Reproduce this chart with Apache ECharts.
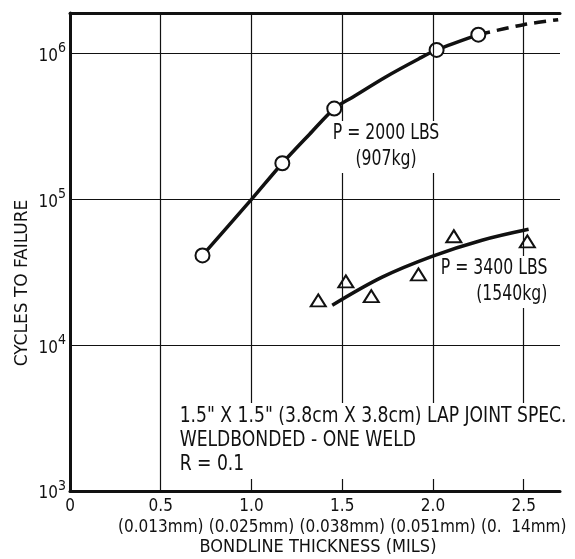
<!DOCTYPE html>
<html>
<head>
<meta charset="utf-8">
<script src="https://cdn.jsdelivr.net/npm/echarts@6/dist/echarts.min.js"></script>
<style>
html,body{margin:0;padding:0;background:#fff;}
#chart{width:575px;height:559px;}
</style>
</head>
<body>
<div id="chart"></div>
<script>
// ---- data ----
const xTicks = [0, 0.5, 1.0, 1.5, 2.0, 2.5];
const xTickLabels = ['0', '0.5', '1.0', '1.5', '2.0', '2.5'];
const xTickMm = ['', '(0.013mm)', '(0.025mm)', '(0.038mm)', '(0.051mm)', '(0.  14mm)'];
const yTickExps = [3, 4, 5, 6];

// P = 2000 LBS test points (circles)
const p2000X = [0.73, 1.17, 1.456, 2.02, 2.25];
const p2000Y = [41300, 177000, 420000, 1060000, 1350000];
// fitted curve (solid part)
const c2000X = [0.73, 1.0, 1.17, 1.32, 1.456, 1.555, 1.742, 1.923, 2.02, 2.25];
const c2000Y = [41300, 100000, 177000, 280000, 420000, 501000, 695000, 923000, 1060000, 1350000];
// extrapolated (dashed part)
const c2000dX = [2.25, 2.5, 2.69];
const c2000dY = [1350000, 1580000, 1710000];

// P = 3400 LBS test points (triangles)
const p3400X = [1.368, 1.52, 1.66, 1.92, 2.115, 2.52];
const p3400Y = [20300, 27400, 21700, 30600, 55900, 51500];
// fitted curve
const c3400X = [1.445, 1.72, 1.995, 2.27, 2.527];
const c3400Y = [18800, 29300, 40700, 52500, 62400];

const xMin = 0, xMax = 2.7, yMin = 1000, yMax = 1900000;

const zip = (xs, ys) => xs.map((x, i) => [x, ys[i]]);
const FONT = "'Liberation Sans Narrow', 'DejaVu Sans Condensed', 'Liberation Sans', sans-serif";
const INK = '#111';

const chart = echarts.init(document.getElementById('chart'), null, {renderer: 'canvas'});
const option = {
  backgroundColor: '#fff',
  animation: false,
  grid: {left: 70, right: 15, top: 13, bottom: 68, containLabel: false},
  xAxis: [{
    type: 'value', min: xMin, max: xMax, interval: 0.5,
    axisLine: {show: true, onZero: false, lineStyle: {color: INK, width: 3}},
    axisTick: {show: false},
    splitLine: {show: false},
    axisLabel: {
      show: true, margin: 5, hideOverlap: false, showMaxLabel: true, showMinLabel: true,
      color: INK, fontFamily: FONT, fontSize: 17, lineHeight: 21,
      formatter: function (v) {
        const i = xTicks.findIndex(t => Math.abs(t - v) < 1e-6);
        if (i < 0) return '';
        return xTickMm[i] ? xTickLabels[i] + '\n' + xTickMm[i] : xTickLabels[i];
      }
    }
  }, {
    type: 'value', min: xMin, max: xMax, position: 'top',
    axisLine: {show: true, onZero: false, lineStyle: {color: INK, width: 3}},
    axisTick: {show: false}, axisLabel: {show: false}, splitLine: {show: false}
  }],
  yAxis: {
    type: 'log', logBase: 10, min: yMin, max: yMax,
    axisLine: {show: true, onZero: false, lineStyle: {color: INK, width: 3}},
    axisTick: {show: false},
    minorTick: {show: false},
    splitLine: {show: true, lineStyle: {color: INK, width: 1.2}},
    axisLabel: {
      show: true, margin: 4, color: INK, fontFamily: FONT, showMaxLabel: true,
      formatter: function (v) {
        const e = Math.round(Math.log10(v));
        if (Math.abs(Math.log10(v) - e) > 1e-6 || yTickExps.indexOf(e) < 0) return '';
        return '{b|10}{s|' + e + '}';
      },
      rich: {
        b: {fontFamily: FONT, fontSize: 17, color: INK, padding: [6, 0, 0, 0]},
        s: {fontFamily: FONT, fontSize: 14, color: INK, padding: [0, 0, 10, 0]}
      }
    }
  },
  graphic: [
    {type: 'text', x: 22, y: 283, rotation: Math.PI / 2, z: 100, scaleX: 1.05,
     style: {text: 'CYCLES TO FAILURE', fill: INK, font: '18px ' + FONT, align: 'center', verticalAlign: 'middle'}},
    {type: 'text', x: 318, y: 547, z: 100,
     style: {text: 'BONDLINE THICKNESS (MILS)', fill: INK, font: '18px ' + FONT, align: 'center', verticalAlign: 'middle'}},
    {type: 'text', x: 386, y: 121, z: 100, scaleX: 0.83,
     style: {text: 'P = 2000 LBS\n(907kg)', fill: INK, font: '21px ' + FONT, align: 'center', verticalAlign: 'top',
             lineHeight: 26, backgroundColor: '#fff', padding: [0, 2]}},
    {type: 'text', x: 549, y: 256, z: 100, scaleX: 0.83,
     style: {text: 'P = 3400 LBS\n(1540kg)', fill: INK, font: '21px ' + FONT, align: 'right', verticalAlign: 'top',
             lineHeight: 26, backgroundColor: '#fff', padding: [0, 2]}},
    {type: 'text', x: 176, y: 403, z: 100, scaleX: 0.91,
     style: {text: '1.5" X 1.5" (3.8cm X 3.8cm) LAP JOINT SPEC.\nWELDBONDED - ONE WELD\nR = 0.1',
             fill: INK, font: '21px ' + FONT, align: 'left', verticalAlign: 'top',
             lineHeight: 24, backgroundColor: '#fff', padding: [2, 4, 2, 4]}}
  ],
  series: [
    {
      type: 'line', data: [], z: 1, silent: true,
      markLine: {
        silent: true, symbol: ['none', 'none'], label: {show: false},
        lineStyle: {color: INK, width: 1.2, type: 'solid'},
        emphasis: {disabled: true},
        data: xTicks.filter(v => v > 0).map(v => ({xAxis: v}))
      }
    },
    {
      type: 'line', data: zip(c2000X, c2000Y), smooth: 0.3, showSymbol: false, z: 2,
      lineStyle: {color: INK, width: 3.5}
    },
    {
      type: 'line', data: zip(c2000dX, c2000dY), smooth: 0.3, showSymbol: false, z: 2,
      lineStyle: {color: INK, width: 3.5, type: [12, 7]}
    },
    {
      type: 'line', data: zip(c3400X, c3400Y), smooth: 0.35, showSymbol: false, z: 2,
      lineStyle: {color: INK, width: 3.5}
    },
    {
      type: 'scatter', data: zip(p2000X, p2000Y), symbol: 'circle', symbolSize: 14, z: 3,
      itemStyle: {color: '#fff', borderColor: INK, borderWidth: 2, opacity: 1}
    },
    {
      type: 'scatter', data: zip(p3400X, p3400Y), symbol: 'triangle', symbolSize: [15, 12], z: 3,
      itemStyle: {color: '#fff', borderColor: INK, borderWidth: 2, opacity: 1}
    }
  ]
};
chart.setOption(option);
</script>
</body>
</html>
